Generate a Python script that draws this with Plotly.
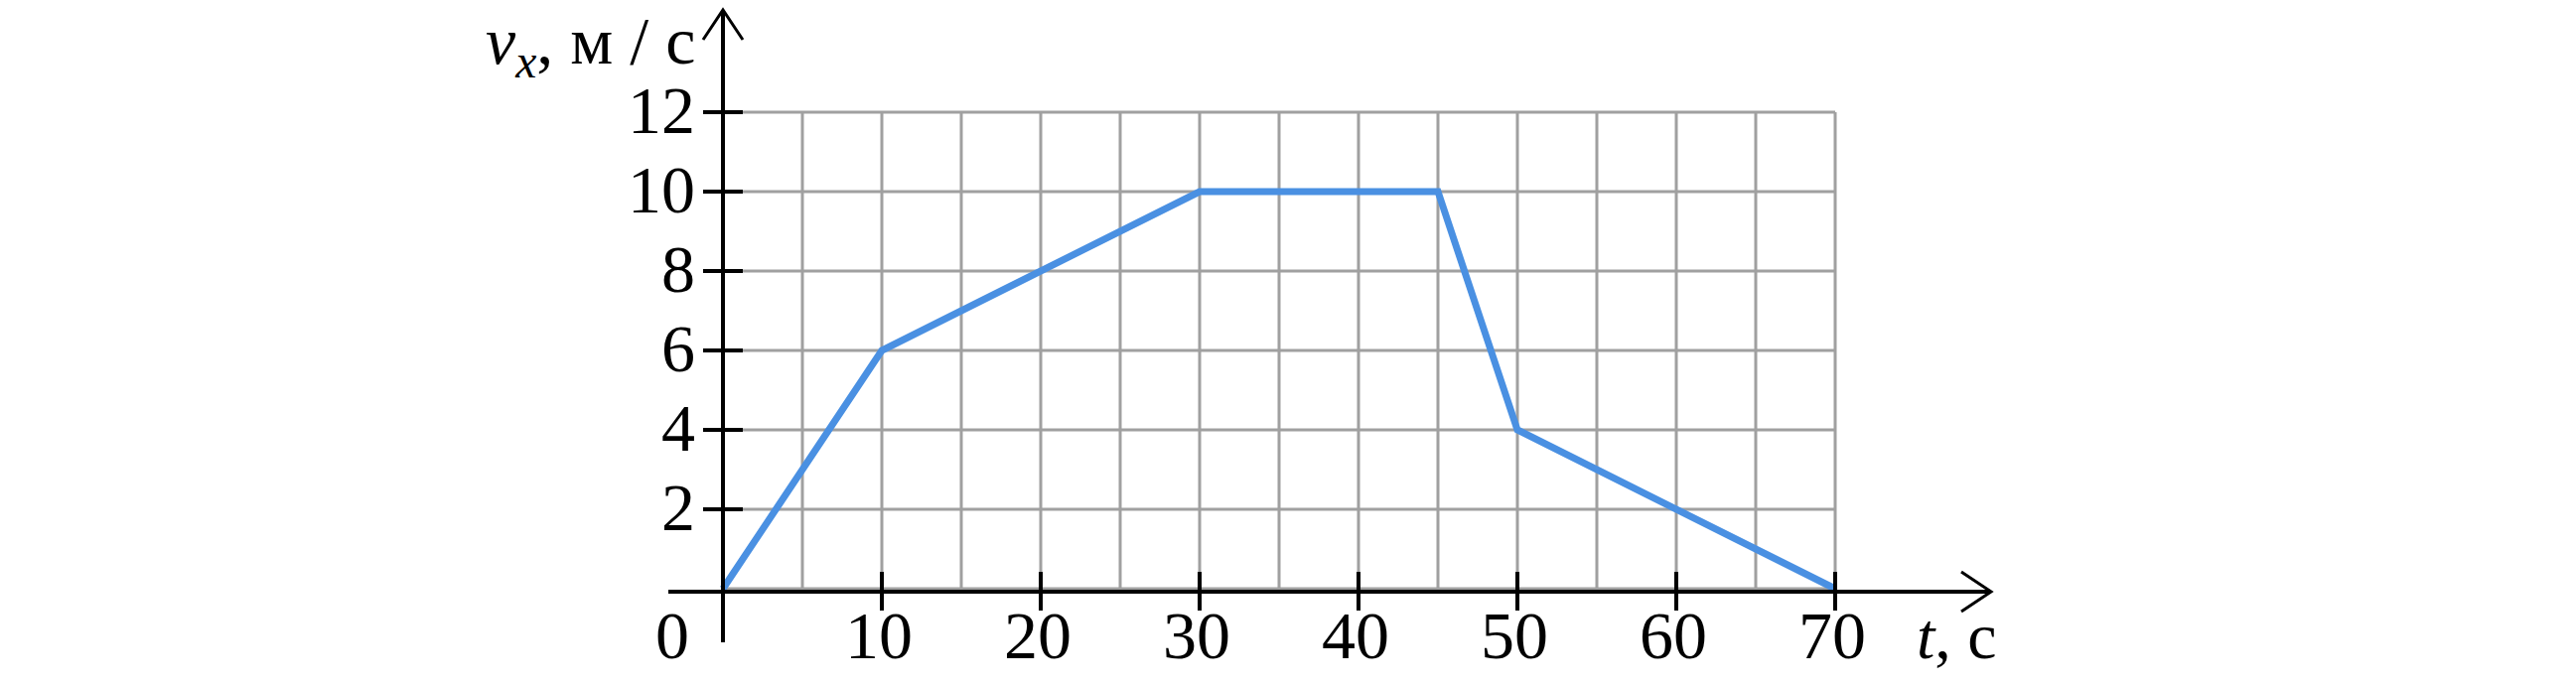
import plotly.graph_objects as go

# ---- data ----
t_values = [0, 10, 30, 45, 50, 70]
v_values = [0, 6, 10, 10, 4, 0]
x_tick_labels = [10, 20, 30, 40, 50, 60, 70]
y_tick_labels = [2, 4, 6, 8, 10, 12]
x_grid = list(range(0, 75, 5))
y_grid = list(range(0, 14, 2))

W, H = 2594, 692
FONT = "Liberation Serif"
BLACK = "#000000"
GRID = "#a0a0a0"
BLUE = "#4a90e2"

# pixel geometry of the reference: t=0 at x=728px, 16 px per second; v=0 at y=593px, 40 px per m/s
X0, XS = 728.0, 16.0
Y0, YS = 593.0, 40.0
x_range = [-X0 / XS, (W - X0) / XS]
y_range = [(Y0 - H) / YS, Y0 / YS]

fig = go.Figure()
fig.update_layout(
    width=W, height=H,
    margin=dict(l=0, r=0, t=0, b=0, pad=0),
    paper_bgcolor="white", plot_bgcolor="white",
    showlegend=False,
    xaxis=dict(range=x_range, visible=False, showgrid=False, zeroline=False, fixedrange=True),
    yaxis=dict(range=y_range, visible=False, showgrid=False, zeroline=False, fixedrange=True),
)

shapes = []
# grid
for g in x_grid:
    shapes.append(dict(type="line", xref="x", yref="y", x0=g, x1=g,
                       y0=y_grid[0], y1=y_grid[-1], line=dict(color=GRID, width=3), layer="below"))
for g in y_grid:
    shapes.append(dict(type="line", xref="x", yref="y", y0=g, y1=g,
                       x0=x_grid[0], x1=x_grid[-1], line=dict(color=GRID, width=3), layer="below"))

AX_W = 4
# y axis line (vertical at t=0)
shapes.append(dict(type="line", xref="x", yref="y", ysizemode="pixel", yanchor=0,
                   x0=0, x1=0, y0=-54, y1=582,
                   line=dict(color=BLACK, width=AX_W), layer="above"))
# x axis line
shapes.append(dict(type="line", xref="x", yref="y", xsizemode="pixel", xanchor=0,
                   ysizemode="pixel", yanchor=0, x0=-55, x1=1276, y0=-3, y1=-3,
                   line=dict(color=BLACK, width=AX_W), layer="above"))
# arrow heads
shapes.append(dict(type="path", xref="x", yref="y", xsizemode="pixel", xanchor=0,
                   ysizemode="pixel", yanchor=0,
                   path="M -20,553 L 0,583 L 20,553",
                   line=dict(color=BLACK, width=3), layer="above"))
shapes.append(dict(type="path", xref="x", yref="y", xsizemode="pixel", xanchor=0,
                   ysizemode="pixel", yanchor=0,
                   path="M 1247,17 L 1277,-3 L 1247,-23",
                   line=dict(color=BLACK, width=3), layer="above"))
# y tick marks
for v in y_tick_labels:
    shapes.append(dict(type="line", xref="x", yref="y", xsizemode="pixel", xanchor=0,
                       x0=-20, x1=20, y0=v, y1=v,
                       line=dict(color=BLACK, width=AX_W), layer="above"))
# x tick marks
for t in x_tick_labels:
    shapes.append(dict(type="line", xref="x", yref="y", ysizemode="pixel", yanchor=0,
                       x0=t, x1=t, y0=-22, y1=17,
                       line=dict(color=BLACK, width=AX_W), layer="above"))
fig.update_layout(shapes=shapes)

fig.add_trace(go.Scatter(x=t_values, y=v_values, mode="lines",
                         line=dict(color=BLUE, width=7), hoverinfo="skip",
                         showlegend=False))

ann = []
tick_font = dict(family=FONT, size=68, color=BLACK)
for v in y_tick_labels:
    ann.append(dict(x=0, y=v, xref="x", yref="y", text=str(v), showarrow=False,
                    xanchor="right", yanchor="middle", xshift=-26, yshift=2,
                    font=tick_font))
for t in x_tick_labels:
    ann.append(dict(x=t, y=0, xref="x", yref="y", text=str(t), showarrow=False,
                    xanchor="center", yanchor="middle", xshift=-3, yshift=-47,
                    font=tick_font))
ann.append(dict(x=0, y=0, xref="x", yref="y", text="0", showarrow=False,
                xanchor="center", yanchor="middle", xshift=-51, yshift=-47,
                font=tick_font))
ann.append(dict(x=0, y=12, xref="x", yref="y",
                text="<i>v</i><sub><i>x</i></sub>, м / с", showarrow=False,
                xanchor="right", yanchor="middle", xshift=-26, yshift=68,
                font=dict(family=FONT, size=68, color=BLACK)))
ann.append(dict(x=70, y=0, xref="x", yref="y",
                text="<i>t</i>, с", showarrow=False,
                xanchor="left", yanchor="middle", xshift=80, yshift=-47,
                font=dict(family=FONT, size=66, color=BLACK)))
fig.update_layout(annotations=ann)

fig.write_html("out.html", config=dict(displayModeBar=False, staticPlot=True),
               post_script="document.body.style.margin='0px';")
